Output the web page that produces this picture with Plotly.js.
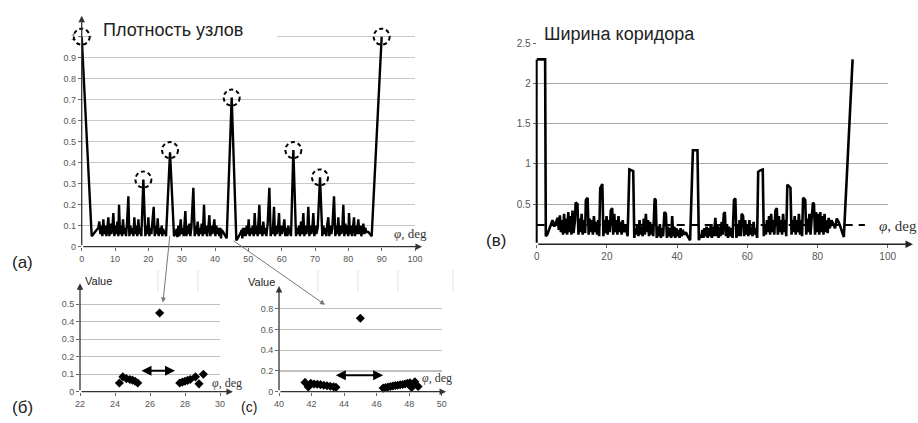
<!DOCTYPE html>
<html>
<head>
<meta charset="utf-8">
<script src="https://cdn.plot.ly/plotly-3.0.1.min.js"></script>
<style>html,body{margin:0;padding:0;background:#fff}#chart{width:918px;height:423px}</style>
</head>
<body>
<div id="chart"></div>
<script>
// ---------------- DATA ----------------
// (a) Плотность узлов  (node density vs phi, deg)
const densityPhi = [0,3.0,4.0,5.0,5.3,5.6,5.9,6.2,6.5,6.8,7.1,7.4,7.7,8.0,8.3,8.6,8.9,9.2,9.5,9.8,10.1,10.4,10.7,11.0,11.2,11.5,11.8,12.1,12.4,12.7,13.0,13.3,13.6,14.0,14.3,14.6,14.9,15.2,15.5,15.8,16.1,16.4,16.7,17.0,17.3,17.6,17.9,18.5,19.1,19.4,19.7,20.0,20.3,20.6,20.9,21.2,21.6,21.9,22.2,22.5,22.8,23.1,23.4,23.7,24.0,24.2,24.4,24.6,24.8,25.0,25.2,25.3,26.5,27.7,27.9,28.1,28.3,28.5,28.7,29.0,29.3,29.7,30.0,30.3,30.6,31.1,31.4,31.7,32.0,32.3,32.6,32.9,33.5,33.9,34.2,34.5,34.8,35.1,35.4,35.7,36.0,36.3,36.7,37.0,37.3,37.6,38.0,38.3,38.6,38.9,39.2,39.5,39.8,40.1,40.4,40.7,41.0,41.3,41.6,41.8,42.0,42.2,42.4,42.6,42.8,43.0,43.2,43.4,43.5,45.0,46.4,46.6,46.8,47.0,47.2,47.4,47.6,47.8,48.0,48.2,48.4,48.6,48.9,49.2,49.5,49.8,50.1,50.4,50.7,51.0,51.3,51.6,51.9,52.2,52.5,52.8,53.3,53.6,53.9,54.2,54.5,54.8,55.1,55.4,55.8,56.3,56.7,57.0,57.3,57.7,58.0,58.3,58.6,58.9,59.2,59.5,59.8,60.1,60.5,60.8,61.1,61.4,61.7,62.0,62.3,62.6,62.8,63.5,64.3,64.6,64.9,65.2,65.5,65.8,66.1,66.5,66.8,67.1,67.4,67.7,68.0,68.3,68.6,68.9,69.2,69.5,69.8,70.1,70.4,70.8,71.5,72.2,72.5,72.8,73.1,73.4,73.7,74.0,74.3,74.6,74.9,75.2,75.7,76.1,76.4,76.7,77.0,77.3,77.6,77.9,78.2,78.5,78.8,79.1,79.4,79.7,80.0,80.2,80.5,80.8,81.1,81.4,81.7,82.0,82.3,82.6,83.0,83.3,83.6,83.9,84.2,84.5,84.8,85.1,85.4,86.0,87.0,90.0];
const densityValue = [1.0,0.05,0.07,0.09,0.12,0.06,0.10,0.05,0.13,0.06,0.10,0.05,0.09,0.14,0.05,0.11,0.06,0.09,0.16,0.05,0.10,0.06,0.12,0.05,0.20,0.06,0.10,0.05,0.13,0.06,0.09,0.05,0.11,0.24,0.05,0.10,0.06,0.09,0.05,0.14,0.06,0.10,0.05,0.13,0.06,0.09,0.05,0.32,0.05,0.10,0.06,0.14,0.05,0.09,0.06,0.11,0.19,0.05,0.10,0.06,0.135,0.05,0.09,0.06,0.10,0.05,0.085,0.075,0.07,0.065,0.06,0.05,0.45,0.05,0.055,0.06,0.07,0.085,0.045,0.10,0.05,0.13,0.06,0.09,0.05,0.17,0.05,0.10,0.06,0.11,0.05,0.09,0.28,0.05,0.10,0.06,0.12,0.05,0.09,0.06,0.11,0.05,0.20,0.06,0.10,0.05,0.09,0.15,0.05,0.10,0.06,0.09,0.13,0.05,0.10,0.06,0.09,0.05,0.09,0.04,0.08,0.075,0.07,0.065,0.06,0.055,0.05,0.045,0.04,0.71,0.03,0.035,0.04,0.045,0.05,0.055,0.06,0.07,0.08,0.04,0.09,0.05,0.09,0.05,0.10,0.06,0.13,0.05,0.09,0.06,0.10,0.05,0.16,0.06,0.10,0.05,0.20,0.06,0.10,0.05,0.12,0.06,0.09,0.05,0.11,0.28,0.05,0.09,0.06,0.19,0.05,0.10,0.06,0.09,0.16,0.05,0.10,0.06,0.09,0.13,0.05,0.09,0.05,0.10,0.06,0.08,0.05,0.46,0.05,0.09,0.06,0.10,0.05,0.12,0.06,0.16,0.05,0.10,0.06,0.09,0.19,0.05,0.10,0.06,0.09,0.16,0.05,0.10,0.06,0.09,0.33,0.05,0.10,0.06,0.09,0.05,0.11,0.14,0.05,0.10,0.06,0.09,0.24,0.05,0.10,0.06,0.14,0.05,0.10,0.06,0.09,0.20,0.05,0.11,0.06,0.10,0.05,0.16,0.06,0.10,0.05,0.09,0.14,0.05,0.10,0.06,0.13,0.06,0.10,0.05,0.09,0.11,0.06,0.09,0.07,0.07,0.05,1.0];
const circledPeakPhi = [0, 18.5, 26.5, 45, 63.5, 71.5, 90];
const circledPeakValue = [1.0, 0.32, 0.46, 0.71, 0.46, 0.33, 1.0];
const densityTicksX = [0,10,20,30,40,50,60,70,80,90,100];
const densityTicksY = [0,0.1,0.2,0.3,0.4,0.5,0.6,0.7,0.8,0.9,1];
const densityTickText = ['0','0.1','0.2','0.3','0.4','0.5','0.6','0.7','0.8','0.9','1'];

// (в) Ширина коридора (corridor width vs phi, deg)
const corridorPhi = [0,2.4,2.6,3.0,3.5,4.0,4.5,5.0,5.5,6.0,6.3,6.6,6.9,7.2,7.5,7.8,8.1,8.4,8.7,9.0,9.3,9.6,9.9,10.2,10.5,10.9,11.1,11.6,11.9,12.2,12.5,12.8,13.1,13.4,13.8,14.0,14.5,14.8,15.1,15.4,15.7,16.0,16.3,16.6,16.9,17.2,17.5,17.8,18.1,18.7,19.0,19.3,19.6,19.9,20.2,20.5,20.8,21.1,21.5,21.8,22.1,22.4,22.7,23.0,23.3,23.6,23.9,24.2,24.5,24.8,25.1,25.5,25.9,26.4,27.0,27.5,27.8,28.1,28.4,28.7,29.0,29.3,29.6,29.9,30.2,30.5,30.8,31.1,31.4,31.7,32.0,32.3,32.6,32.9,33.2,33.6,33.9,34.2,34.5,34.8,35.1,35.4,35.7,36.0,36.4,36.8,37.1,37.4,37.7,38.0,38.3,38.6,38.9,39.2,39.5,39.8,40.1,40.4,40.7,41.0,41.3,41.6,42.0,42.5,43.0,43.7,44.5,45.8,46.2,46.6,46.9,47.2,47.5,47.8,48.1,48.4,48.7,49.0,49.3,49.6,49.9,50.2,50.5,50.9,51.2,51.5,51.8,52.1,52.4,52.7,53.0,53.3,53.6,53.9,54.2,54.5,54.8,55.1,55.4,55.8,56.2,56.6,56.9,57.2,57.5,57.8,58.1,58.4,58.8,59.1,59.4,59.7,60.0,60.3,60.6,60.9,61.2,61.5,61.8,62.1,62.4,62.8,63.1,63.7,64.4,64.7,65.0,65.3,65.6,65.9,66.2,66.5,66.8,67.1,67.4,67.7,68.0,68.4,68.7,69.0,69.3,69.6,69.9,70.2,70.5,70.8,71.1,71.4,71.9,72.3,72.6,72.9,73.2,73.5,73.8,74.1,74.4,74.7,75.0,75.3,75.6,75.9,76.5,76.8,77.1,77.4,77.7,78.0,78.3,78.7,79.0,79.3,79.6,79.9,80.2,80.5,80.8,81.1,81.4,81.7,82.0,82.3,82.6,82.9,83.2,83.5,84.0,84.5,85.0,85.5,86.0,86.5,87.0,87.5,90.0];
const corridorWidth = [2.3,2.3,0.1,0.12,0.18,0.25,0.3,0.22,0.28,0.33,0.18,0.36,0.15,0.3,0.12,0.38,0.14,0.32,0.12,0.4,0.15,0.35,0.12,0.42,0.14,0.3,0.52,0.5,0.12,0.32,0.15,0.38,0.12,0.3,0.14,0.55,0.58,0.12,0.32,0.15,0.3,0.12,0.35,0.15,0.28,0.12,0.3,0.1,0.7,0.75,0.1,0.3,0.14,0.35,0.12,0.3,0.15,0.42,0.45,0.12,0.38,0.15,0.3,0.12,0.35,0.15,0.28,0.12,0.3,0.15,0.25,0.18,0.1,0.93,0.92,0.91,0.08,0.2,0.12,0.25,0.1,0.3,0.12,0.22,0.1,0.32,0.12,0.38,0.15,0.3,0.1,0.28,0.12,0.25,0.1,0.57,0.55,0.08,0.22,0.1,0.25,0.08,0.2,0.1,0.4,0.38,0.08,0.22,0.1,0.2,0.08,0.35,0.1,0.22,0.08,0.2,0.1,0.18,0.08,0.2,0.1,0.18,0.12,0.15,0.1,0.05,1.17,1.17,0.05,0.12,0.08,0.18,0.08,0.2,0.1,0.22,0.08,0.2,0.1,0.25,0.08,0.22,0.1,0.33,0.1,0.25,0.08,0.22,0.1,0.28,0.12,0.38,0.4,0.1,0.25,0.08,0.22,0.1,0.2,0.08,0.55,0.57,0.08,0.25,0.1,0.3,0.1,0.38,0.35,0.1,0.3,0.12,0.25,0.1,0.3,0.12,0.22,0.1,0.28,0.12,0.2,0.08,0.9,0.92,0.93,0.1,0.25,0.12,0.3,0.15,0.35,0.12,0.38,0.15,0.3,0.12,0.42,0.45,0.12,0.35,0.15,0.3,0.12,0.38,0.15,0.3,0.1,0.74,0.72,0.7,0.12,0.3,0.15,0.35,0.12,0.3,0.15,0.38,0.12,0.3,0.1,0.58,0.55,0.12,0.32,0.15,0.38,0.12,0.3,0.52,0.5,0.12,0.4,0.15,0.38,0.12,0.4,0.15,0.35,0.12,0.38,0.15,0.3,0.14,0.33,0.2,0.3,0.25,0.2,0.32,0.28,0.22,0.15,0.09,2.3];
const corridorThresholdPhi = [0, 93.5];
const corridorThreshold = [0.24, 0.24];
const corridorTicksX = [0,20,40,60,80,100];
const corridorTicksY = [0.5,1,1.5,2,2.5];

// (б) zoom near 26.5 deg
const zoomBPhi = [24.25,24.45,24.65,24.85,25.0,25.15,25.3,26.55,27.7,27.85,28.0,28.15,28.3,28.6,28.8,29.05];
const zoomBValue = [0.05,0.085,0.075,0.07,0.066,0.06,0.05,0.45,0.05,0.055,0.06,0.065,0.07,0.085,0.045,0.10];
const zoomBGap = [25.43, 27.43];
const zoomBGapLevel = 0.12;
const zoomBTicksX = [22,24,26,28,30];
const zoomBTicksY = [0,0.1,0.2,0.3,0.4,0.5];

// (c) zoom near 45 deg
const zoomCPhi = [41.6,41.8,41.95,42.15,42.35,42.55,42.75,42.95,43.15,43.35,43.5,45.0,46.4,46.55,46.7,46.85,47.0,47.15,47.3,47.45,47.6,47.75,47.9,48.05,48.15,48.35,48.55];
const zoomCValue = [0.09,0.045,0.08,0.075,0.072,0.068,0.063,0.058,0.052,0.048,0.042,0.71,0.035,0.04,0.045,0.05,0.055,0.06,0.063,0.067,0.07,0.075,0.08,0.085,0.04,0.095,0.05];
const zoomCGap = [43.4, 46.4];
const zoomCGapLevel = 0.16;
const zoomCTicksX = [40,42,44,46,48,50];
const zoomCTicksY = [0,0.2,0.4,0.6,0.8];

// ---------------- LAYOUT HELPERS ----------------
const W = 918, H = 423;
const px = v => v / W;
const py = v => 1 - v / H;
const tickFont = {family: 'Liberation Sans, Arial, sans-serif', size: 9, color: '#555'};
const densityRangeX = [0, 100], densityRangeY = [0, 1.1];

function xAxis(dom, range, vals, anchor, extra) {
  return Object.assign({domain: [px(dom[0]), px(dom[1])], range: range, anchor: anchor,
    tickmode: 'array', tickvals: vals, ticks: 'outside', ticklen: 3, tickcolor: '#666',
    tickfont: tickFont, showgrid: false, zeroline: false, showline: false, fixedrange: true}, extra || {});
}
function yAxis(dom, range, vals, anchor, grid, extra) {
  return Object.assign({domain: [py(dom[0]), py(dom[1])], range: range, anchor: anchor,
    tickmode: 'array', tickvals: vals, ticks: 'outside', ticklen: 3, tickcolor: '#666',
    tickfont: tickFont, showgrid: true, gridcolor: grid.color, gridwidth: grid.width,
    zeroline: false, showline: false, fixedrange: true}, extra || {});
}
function axisArrow(xr, yr, x0, y0, x1, y1, head, w, col) {
  return {xref: xr, yref: yr, axref: xr, ayref: yr, x: x1, y: y1, ax: x0, ay: y0, text: '',
    showarrow: true, arrowhead: head, arrowsize: 1, arrowwidth: w, arrowcolor: col, standoff: 0, startstandoff: 0};
}
function label(x, y, text, size, opts) {
  return Object.assign({xref: 'paper', yref: 'paper', x: px(x), y: py(y), text: text, showarrow: false,
    xanchor: 'center', yanchor: 'middle', font: {family: 'Liberation Sans, Arial, sans-serif', size: size, color: '#222'}}, opts || {});
}
const frac = (v, r) => (v - r[0]) / (r[1] - r[0]);

const traces = [
  {type: 'scatter', mode: 'lines', x: densityPhi, y: densityValue, xaxis: 'x', yaxis: 'y',
   line: {color: '#000', width: 2.4}, hoverinfo: 'skip'},
  {type: 'scatter', mode: 'lines', x: corridorThresholdPhi, y: corridorThreshold, xaxis: 'x2', yaxis: 'y2',
   line: {color: '#000', width: 2, dash: '8px,6px'}, hoverinfo: 'skip'},
  {type: 'scatter', mode: 'lines', x: corridorPhi, y: corridorWidth, xaxis: 'x2', yaxis: 'y2',
   line: {color: '#000', width: 2.6}, hoverinfo: 'skip'},
  {type: 'scatter', mode: 'markers', x: zoomBPhi, y: zoomBValue, xaxis: 'x3', yaxis: 'y3',
   marker: {symbol: 'diamond', size: 7, color: '#000'}, cliponaxis: false, hoverinfo: 'skip'},
  {type: 'scatter', mode: 'markers', x: zoomCPhi, y: zoomCValue, xaxis: 'x4', yaxis: 'y4',
   marker: {symbol: 'diamond', size: 7, color: '#000'}, cliponaxis: false, hoverinfo: 'skip'}
];

const shapes = [];
// white boxes behind the panel titles (they hide the top grid line in the reference)
shapes.push({type: 'rect', xref: 'paper', yref: 'paper', x0: px(92), x1: px(277), y0: py(46), y1: py(16),
  fillcolor: '#fff', line: {width: 0}, layer: 'above'});
shapes.push({type: 'rect', xref: 'paper', yref: 'paper', x0: px(538), x1: px(729), y0: py(50), y1: py(18),
  fillcolor: '#fff', line: {width: 0}, layer: 'above'});
// faint table lines between the panels
[158, 198, 318, 358, 398, 453].forEach(v => shapes.push({type: 'line', xref: 'paper', yref: 'paper',
  x0: px(v), x1: px(v), y0: py(270), y1: py(292), line: {color: '#e4e4e4', width: 1}}));
// dashed circles around the peaks of (a) (domain refs so the circle at phi=0 is not clipped)
circledPeakPhi.forEach((p, i) => shapes.push({type: 'circle', xref: 'x domain', yref: 'y domain',
  xsizemode: 'pixel', ysizemode: 'pixel', xanchor: frac(p, densityRangeX), yanchor: frac(circledPeakValue[i], densityRangeY),
  x0: -8, x1: 8, y0: -8, y1: 8, line: {color: '#000', width: 2, dash: '4px,3px'}, layer: 'above'}));

const annotations = [
  // axis arrows
  axisArrow('x', 'y', 0, 0, 102.1, 0, 2, 1.3, '#333'),
  axisArrow('x', 'y', 0, 0, 0, 1.1, 2, 1.3, '#333'),
  axisArrow('x2', 'y2', 0, 0, 107.2, 0, 2, 1.5, '#222'),
  axisArrow('x2', 'y2', 0, 0, 0, 2.3, 0, 2, '#000'),
  axisArrow('x3', 'y3', 22, 0, 30.74, 0, 2, 1.3, '#333'),
  axisArrow('x3', 'y3', 22, 0, 22, 0.62, 2, 1.3, '#333'),
  axisArrow('x4', 'y4', 40, 0, 50.27, 0, 2, 1.3, '#333'),
  axisArrow('x4', 'y4', 40, 0, 40, 1.02, 2, 1.3, '#333'),
  // double arrows marking the gaps
  {xref: 'x3', yref: 'y3', axref: 'x3', ayref: 'y3', x: zoomBGap[1], y: zoomBGapLevel, ax: zoomBGap[0], ay: zoomBGapLevel,
   text: '', showarrow: true, arrowhead: 2, startarrowhead: 2, arrowside: 'end+start', arrowwidth: 2, arrowsize: 1, arrowcolor: '#000'},
  {xref: 'x4', yref: 'y4', axref: 'x4', ayref: 'y4', x: zoomCGap[1], y: zoomCGapLevel, ax: zoomCGap[0], ay: zoomCGapLevel,
   text: '', showarrow: true, arrowhead: 2, startarrowhead: 2, arrowside: 'end+start', arrowwidth: 2, arrowsize: 1, arrowcolor: '#000'},
  // connectors from (a) to the zoom panels
  {xref: 'x3', yref: 'y3', x: 26.74, y: 0.51, ax: 7, ay: -68, text: '', showarrow: true,
   arrowhead: 2, arrowsize: 1, arrowwidth: 1, arrowcolor: '#777'},
  {xref: 'x4', yref: 'y4', x: 42.83, y: 0.84, ax: -93, ay: -65, text: '', showarrow: true,
   arrowhead: 2, arrowsize: 1, arrowwidth: 1, arrowcolor: '#777'},
  // titles
  label(101, 30, 'Плотность узлов', 18, {xanchor: 'left'}),
  label(542, 34, 'Ширина коридора', 18, {xanchor: 'left'}),
  // panel letters
  label(22, 262, '(a)', 17),
  label(22, 407, '(б)', 17),
  label(496, 240, '(в)', 17),
  label(249, 407, '(c)', 14),
  // value labels
  label(83, 281, 'Value', 11, {xanchor: 'left'}),
  label(246, 282, 'Value', 11, {xanchor: 'left'}),
  // phi labels
  label(392, 233, '<i>φ</i>, deg', 13, {xanchor: 'left', font: {family: 'Liberation Serif, serif', size: 13, color: '#333'}}),
  label(877, 226, '<i>φ</i>, deg', 15, {xanchor: 'left', font: {family: 'Liberation Serif, serif', size: 15, color: '#333'}}),
  label(210, 383, '<i>φ</i>, deg', 12, {xanchor: 'left', font: {family: 'Liberation Serif, serif', size: 12, color: '#333'}}),
  label(420, 378, '<i>φ</i>, deg', 12, {xanchor: 'left', font: {family: 'Liberation Serif, serif', size: 12, color: '#333'}})
];

const layout = {
  width: W, height: H, margin: {l: 0, r: 0, t: 0, b: 0},
  paper_bgcolor: '#fff', plot_bgcolor: 'rgba(0,0,0,0)', showlegend: false,
  xaxis: xAxis([81.7, 415], densityRangeX, densityTicksX, 'y'),
  yaxis: yAxis([246.7, 15.7], densityRangeY, densityTicksY, 'x', {color: '#c8c8c8', width: 1.5}, {ticktext: densityTickText}),
  xaxis2: xAxis([536.7, 887.7], [0, 100], corridorTicksX, 'y2', {tickfont: Object.assign({}, tickFont, {size: 10})}),
  yaxis2: yAxis([244.3, 43.3], [0, 2.5], corridorTicksY, 'x2', {color: '#a8a8a8', width: 1}, {tickfont: Object.assign({}, tickFont, {size: 10})}),
  xaxis3: xAxis([80, 220], [22, 30], zoomBTicksX, 'y3'),
  yaxis3: yAxis([391.7, 286.7], [0, 0.6], zoomBTicksY, 'x3', {color: '#c0c0c0', width: 1.2}),
  xaxis4: xAxis([279, 441.7], [40, 50], zoomCTicksX, 'y4'),
  yaxis4: yAxis([391.7, 298.5], [0, 0.9], zoomCTicksY, 'x4', {color: '#c0c0c0', width: 1.2}),
  shapes: shapes,
  annotations: annotations
};

Plotly.newPlot('chart', traces, layout, {staticPlot: true, displayModeBar: false});
</script>
</body>
</html>
